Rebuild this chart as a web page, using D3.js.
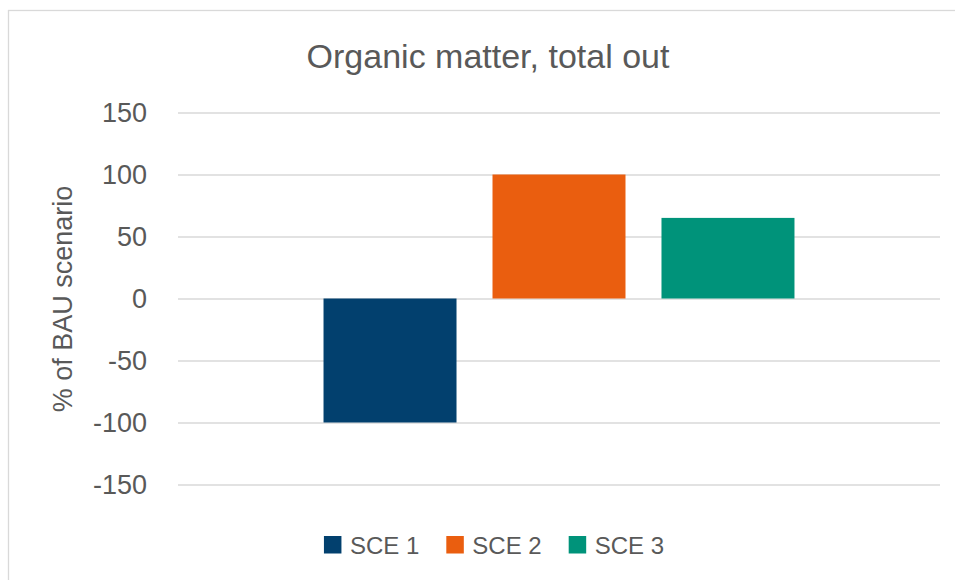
<!DOCTYPE html>
<html>
<head>
<meta charset="utf-8">
<script src="https://cdn.jsdelivr.net/npm/d3@7"></script>
<style>
  html, body { margin: 0; padding: 0; background: #fff; }
  svg { display: block; font-family: "Liberation Sans", Arial, sans-serif; }
</style>
</head>
<body>
<svg id="chart" width="955" height="580"></svg>
<script>
const title = "Organic matter, total out";
const yAxisTitle = "% of BAU scenario";
const categories = [""];
const seriesNames = ["SCE 1", "SCE 2", "SCE 3"];
const seriesValues = [-100, 100, 65];
const seriesColors = ["#02406E", "#EA5E0F", "#00937A"];
const yTicks = [-150, -100, -50, 0, 50, 100, 150];

const svg = d3.select("#chart");
const textColor = "#595959";
const gridColor = "#D9D9D9";

// chart border (extends beyond the visible window on right/bottom)
svg.append("rect")
  .attr("x", 8.5).attr("y", 10.5)
  .attr("width", 1000).attr("height", 600)
  .attr("fill", "none").attr("stroke", gridColor).attr("stroke-width", 1.3);

const plot = { left: 178, right: 940, top: 112.5, bottom: 484.5 };

const y = d3.scaleLinear().domain([-150, 150]).range([plot.bottom, plot.top]);
const x0 = d3.scaleBand().domain(categories).range([plot.left, plot.right]).paddingInner(0).paddingOuter(0.309);
const x1 = d3.scaleBand().domain(seriesNames).range([0, x0.bandwidth()]).paddingInner(0.213).paddingOuter(0);

// gridlines via axis
const yAxis = d3.axisLeft(y).tickValues(yTicks).tickSize(-(plot.right - plot.left)).tickFormat(d3.format("d"));
const gAxis = svg.append("g").attr("transform", `translate(${plot.left},0)`).call(yAxis);
gAxis.select(".domain").remove();
gAxis.selectAll(".tick line").attr("stroke", gridColor).attr("stroke-width", 1.3);
gAxis.selectAll(".tick text")
  .attr("x", -31)
  .attr("dy", "0.35em")
  .attr("fill", textColor)
  .style("font-size", "27px")
  .style("font-family", "'Liberation Sans', Arial, sans-serif")
  .text(d => d < 0 ? "-" + Math.abs(d) : String(d));

// bars
const data = seriesNames.map((s, i) => ({ cat: categories[0], name: s, value: seriesValues[i], color: seriesColors[i] }));
svg.append("g").selectAll("rect").data(data).join("rect")
  .attr("x", d => x0(d.cat) + x1(d.name))
  .attr("width", x1.bandwidth())
  .attr("y", d => y(Math.max(0, d.value)))
  .attr("height", d => Math.abs(y(d.value) - y(0)))
  .attr("fill", d => d.color);

// title
svg.append("text")
  .attr("x", 488).attr("y", 68)
  .attr("text-anchor", "middle")
  .attr("fill", textColor)
  .style("font-size", "34px")
  .text(title);

// y-axis title
svg.append("text")
  .attr("transform", `translate(72,299) rotate(-90)`)
  .attr("text-anchor", "middle")
  .attr("fill", textColor)
  .style("font-size", "27px")
  .text(yAxisTitle);

// legend
const legend = svg.append("g");
const items = legend.selectAll("g").data(data).join("g");
items.append("rect").attr("width", 17.5).attr("height", 17.5).attr("y", 536).attr("fill", d => d.color);
items.append("text").attr("x", 26).attr("y", 553.5).attr("fill", textColor).style("font-size", "24px").text(d => d.name);
let widths = [];
items.each(function() { widths.push(26 + d3.select(this).select("text").node().getComputedTextLength()); });
const gap = 27;
const total = d3.sum(widths) + gap * (widths.length - 1);
let cx = 494 - total / 2;
items.attr("transform", (d, i) => {
  const t = `translate(${cx},0)`;
  cx += widths[i] + gap;
  return t;
});
</script>
</body>
</html>
